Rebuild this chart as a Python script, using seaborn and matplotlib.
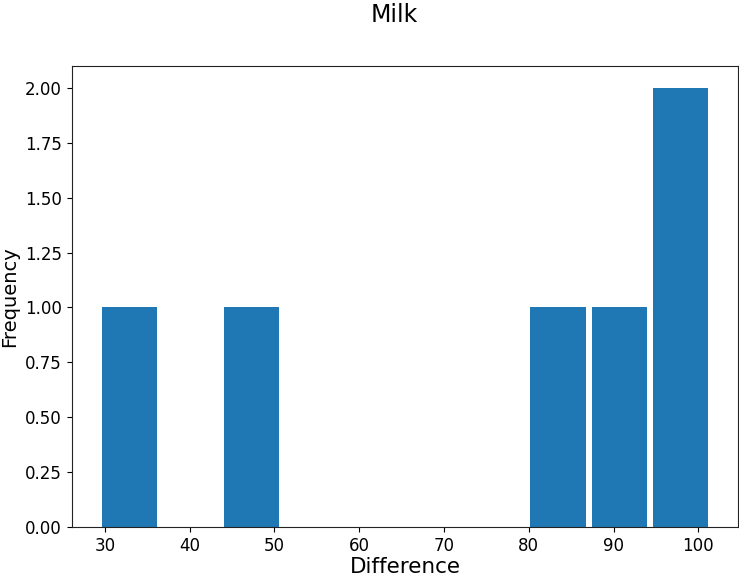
import matplotlib
matplotlib.use("Agg")
import matplotlib.pyplot as plt
import seaborn as sns
import pandas as pd

# Price differences observed for milk
difference = [29.3, 46.0, 82.0, 90.0, 97.0, 101.5]
title = "Milk"
x_label = "Difference"
y_label = "Frequency"

df = pd.DataFrame({"Difference": difference})

sns.set_style("ticks")
plt.rcParams["font.family"] = ["DejaVu Sans"]
plt.rcParams["text.color"] = "black"
plt.rcParams["axes.labelcolor"] = "black"
plt.rcParams["xtick.color"] = "black"
plt.rcParams["ytick.color"] = "black"

fig = plt.figure(figsize=(7.39, 5.79), dpi=100)
ax = fig.add_axes([0.097, 0.090, 0.902, 0.796])

sns.histplot(data=df, x="Difference", bins=10, shrink=0.9, stat="count",
             color="#1f77b4", alpha=1.0, edgecolor="none", linewidth=0, ax=ax)

ax.set_ylim(0, 2.1)
ax.set_yticks([0, 0.25, 0.5, 0.75, 1.0, 1.25, 1.5, 1.75, 2.0])
ax.set_yticklabels([f"{v:.2f}" for v in ax.get_yticks()])
ax.set_xticks([30, 40, 50, 60, 70, 80, 90, 100])

ax.set_xlabel(x_label, fontsize=15.5, labelpad=2)
ax.set_ylabel(y_label, fontsize=14, labelpad=4)
ax.tick_params(axis="both", labelsize=12, direction="out", length=3.5, width=0.8)
for side in ["top", "right", "left", "bottom"]:
    ax.spines[side].set_visible(True)
    ax.spines[side].set_color("#222222")
    ax.spines[side].set_linewidth(0.8)

fig.suptitle(title, fontsize=17, x=0.533, y=0.995)

fig.savefig("out.png", dpi=100)
